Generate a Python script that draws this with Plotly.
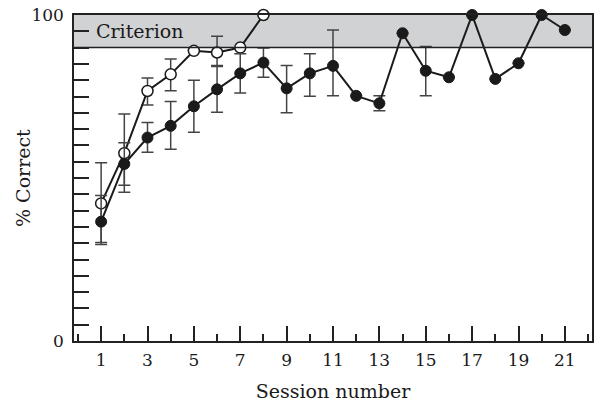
import plotly.graph_objects as go

sessions_filled = list(range(1, 22))
filled_pct = [36.6, 54.3, 62.4, 66.0, 72.0, 77.2, 82.1, 85.4, 77.5, 82.1, 84.4,
              75.2, 72.9, 94.4, 82.9, 80.9, 100, 80.4, 85.2, 100, 95.4]
filled_err_plus = [8, 6.5, 4.6, 7.5, 8, 7, 6, 4.5, 7, 6, 11, 0, 2.3, 0, 7.4,
                   0, 0, 0, 0, 0, 0]
filled_err_minus = [7, 6.5, 4.5, 7.2, 8, 7, 6, 4.5, 7.5, 7, 9.2, 0, 2.3, 0, 7.7,
                    0, 0, 0, 0, 0, 0]

sessions_open = list(range(1, 9))
open_pct = [42.2, 57.6, 76.7, 81.8, 89.0, 88.5, 90.0, 100]
open_err_plus = [12.5, 12, 4, 4.7, 0, 5, 0, 0]
open_err_minus = [12, 12, 4.3, 5, 0, 4, 0, 0]

criterion_low, criterion_high = 90, 100
x_tickvals = list(range(1, 22, 2))
y_tickvals = [0, 100]

FONT = "DejaVu Serif"

fig = go.Figure()

fig.add_shape(type="rect", xref="paper", yref="y", x0=0, x1=1,
              y0=criterion_low, y1=criterion_high,
              fillcolor="#d1d2d4", line=dict(width=0), layer="below")
fig.add_shape(type="line", xref="paper", yref="y", x0=0, x1=1,
              y0=criterion_low, y1=criterion_low,
              line=dict(color="#222", width=1.5))

err_style = dict(type="data", symmetric=False, color="#444", thickness=1.5, width=6)

fig.add_trace(go.Scatter(
    x=sessions_open, y=open_pct, mode="lines+markers",
    line=dict(color="#1a1a1a", width=2),
    marker=dict(symbol="circle", size=11, color="white",
                line=dict(color="#1a1a1a", width=1.5)),
    error_y=dict(array=open_err_plus, arrayminus=open_err_minus, **err_style),
    cliponaxis=False, showlegend=False))

fig.add_trace(go.Scatter(
    x=sessions_filled, y=filled_pct, mode="lines+markers",
    line=dict(color="#1a1a1a", width=2),
    marker=dict(symbol="circle", size=11, color="#1a1a1a",
                line=dict(color="#1a1a1a", width=1)),
    error_y=dict(array=filled_err_plus, arrayminus=filled_err_minus, **err_style),
    cliponaxis=False, showlegend=False))

fig.add_annotation(x=0.7, y=95, xref="x", yref="y", text="Criterion",
                   showarrow=False, xanchor="left", yanchor="middle",
                   font=dict(family=FONT, size=19, color="#1a1a1a"))

fig.add_annotation(x=0, y=0.5, xref="paper", yref="paper", text="% Correct",
                   showarrow=False, textangle=-90, xanchor="center",
                   yanchor="middle", xshift=-51,
                   font=dict(family=FONT, size=19, color="#1a1a1a"))

fig.update_layout(
    width=597, height=403,
    margin=dict(l=74, r=3, t=15, b=62),
    plot_bgcolor="white", paper_bgcolor="white",
    font=dict(family=FONT, size=17, color="#1a1a1a"),
)

fig.update_xaxes(
    range=[-0.17, 22.17], showgrid=False, zeroline=False,
    showline=True, linecolor="#222", linewidth=1.5, mirror=True,
    tickmode="array", tickvals=x_tickvals,
    ticks="inside", ticklen=15, tickwidth=1.5, tickcolor="#222",
    minor=dict(tickmode="linear", tick0=0, dtick=1, ticks="inside",
               ticklen=7, tickwidth=1.5, tickcolor="#222"),
    ticklabelstandoff=3,
    title=dict(text="Session number", font=dict(family=FONT, size=19),
               standoff=16),
)
fig.update_yaxes(
    range=[0, 100], showgrid=False, zeroline=False,
    showline=True, linecolor="#222", linewidth=1.5, mirror=True,
    tickmode="array", tickvals=y_tickvals,
    ticks="inside", ticklen=15, tickwidth=1.5, tickcolor="#222",
    minor=dict(tickmode="linear", tick0=0, dtick=5, ticks="inside",
               ticklen=15, tickwidth=1.5, tickcolor="#222"),
    ticklabelstandoff=5,
)

fig.write_html("out.html")
